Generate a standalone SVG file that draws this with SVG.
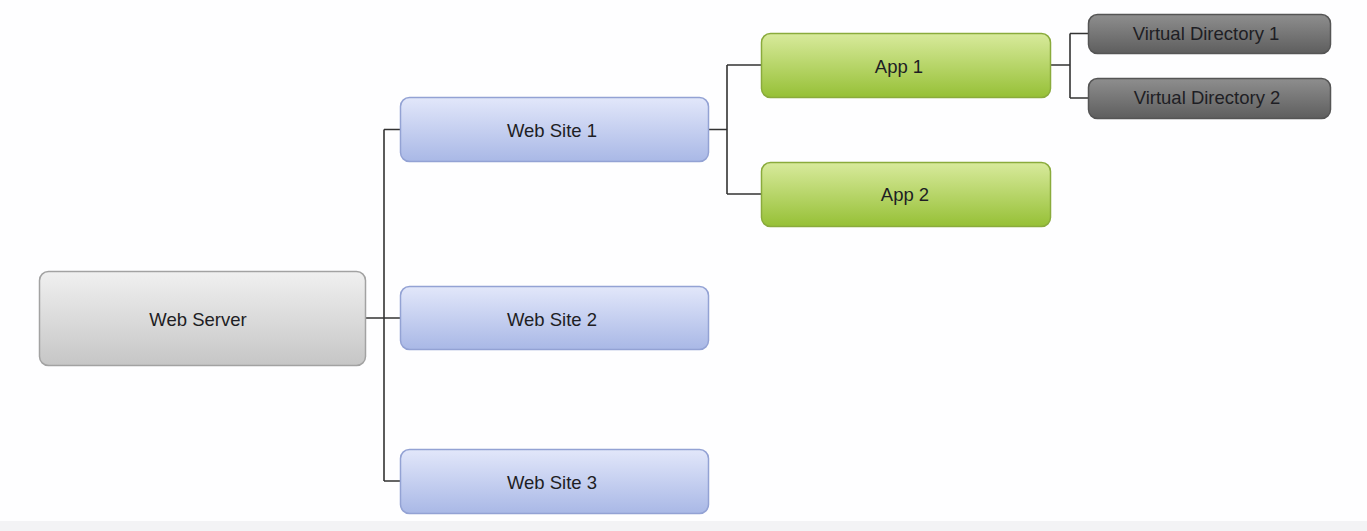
<svg xmlns="http://www.w3.org/2000/svg" width="1367" height="531" viewBox="0 0 1367 531">
<style>
.lbl{font-family:"Liberation Sans",Arial,sans-serif;font-size:18.5px;fill:#1e1e24;text-anchor:middle;dominant-baseline:central}
.conn{fill:none;stroke:#333;stroke-width:1.6}
</style>
<defs>
<linearGradient id="gGray" x1="0" y1="0" x2="0" y2="1"><stop offset="0" stop-color="#f0f0f0"/><stop offset="1" stop-color="#c6c6c6"/></linearGradient>
<linearGradient id="gBlue" x1="0" y1="0" x2="0" y2="1"><stop offset="0" stop-color="#e2e7fa"/><stop offset="1" stop-color="#a9b8e6"/></linearGradient>
<linearGradient id="gGreen" x1="0" y1="0" x2="0" y2="1"><stop offset="0" stop-color="#d8ea9c"/><stop offset="1" stop-color="#96c036"/></linearGradient>
<linearGradient id="gDark" x1="0" y1="0" x2="0" y2="1"><stop offset="0" stop-color="#8e8e8e"/><stop offset="1" stop-color="#5e5e5e"/></linearGradient>
</defs>
<rect x="0" y="0" width="1367" height="531" fill="#fefeff"/>
<rect x="0" y="521" width="1367" height="10" fill="#f3f3f5"/>
<g id="connectors">
<path class="conn" d="M365 318 H384 M384 129.5 V481 M384 129.5 H400 M384 318 H400 M384 481 H400"/>
<path class="conn" d="M708 129.5 H727 M727 65 V194 M727 65 H761 M727 194 H761"/>
<path class="conn" d="M1050 65 H1070 M1070 33.5 V98 M1070 33.5 H1088 M1070 98 H1088"/>
</g>
<g id="web-server"><rect x="39.5" y="271.5" width="326" height="94" rx="9" fill="url(#gGray)" stroke="#a2a2a2" stroke-width="1.5"/><text class="lbl" x="198" y="319">Web Server</text></g>
<g id="web-site-1"><rect x="400.5" y="97.5" width="308" height="64" rx="9" fill="url(#gBlue)" stroke="#93a2d4" stroke-width="1.5"/><text class="lbl" x="552" y="130">Web Site 1</text></g>
<g id="web-site-2"><rect x="400.5" y="286.5" width="308" height="63" rx="9" fill="url(#gBlue)" stroke="#93a2d4" stroke-width="1.5"/><text class="lbl" x="552" y="319">Web Site 2</text></g>
<g id="web-site-3"><rect x="400.5" y="449.5" width="308" height="64" rx="9" fill="url(#gBlue)" stroke="#93a2d4" stroke-width="1.5"/><text class="lbl" x="552" y="482">Web Site 3</text></g>
<g id="app-1"><rect x="761.5" y="33.5" width="289" height="64" rx="9" fill="url(#gGreen)" stroke="#8aab3c" stroke-width="1.5"/><text class="lbl" x="899" y="66">App 1</text></g>
<g id="app-2"><rect x="761.5" y="162.5" width="289" height="64" rx="9" fill="url(#gGreen)" stroke="#8aab3c" stroke-width="1.5"/><text class="lbl" x="905" y="194">App 2</text></g>
<g id="virtual-directory-1"><rect x="1088.5" y="14.5" width="242" height="39" rx="9" fill="url(#gDark)" stroke="#555" stroke-width="1.5"/><text class="lbl" x="1206" y="33">Virtual Directory 1</text></g>
<g id="virtual-directory-2"><rect x="1088.5" y="78.5" width="242" height="40" rx="9" fill="url(#gDark)" stroke="#555" stroke-width="1.5"/><text class="lbl" x="1207" y="97">Virtual Directory 2</text></g>
</svg>
